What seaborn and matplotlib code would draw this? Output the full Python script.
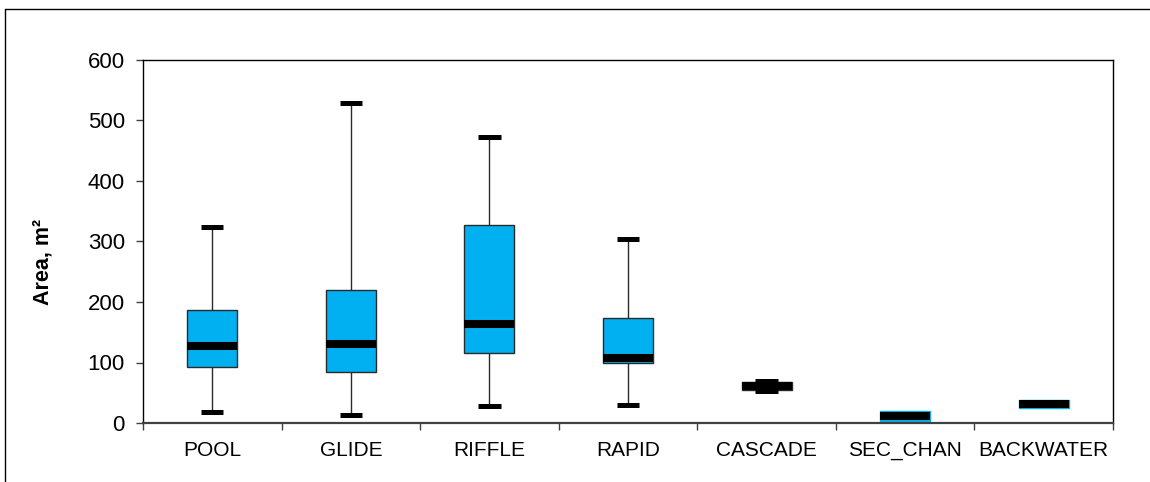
import numpy as np
import pandas as pd
import matplotlib
matplotlib.use("Agg")
import matplotlib.pyplot as plt
import seaborn as sns
from matplotlib.lines import Line2D

# ---- data ----
habitats = ["POOL", "GLIDE", "RIFFLE", "RAPID", "CASCADE", "SEC_CHAN", "BACKWATER"]
mins    = [18, 13, 28, 30, 53, 4, 24]
q1s     = [93, 84, 116, 100, 54, 4, 24]
medians = [127, 130, 163, 108, 61, 12, 31]
q3s     = [186, 220, 327, 174, 67, 20, 38]
maxs    = [324, 529, 472, 304, 69, 20, 38]
yticks = [0, 100, 200, 300, 400, 500, 600]

# five-number table per habitat (min, q1, median, q3, max)
rows = []
for h, a, b, c, d, e in zip(habitats, mins, q1s, medians, q3s, maxs):
    for v in (a, b, c, d, e):
        rows.append({"habitat": h, "area": v})
df = pd.DataFrame(rows)

sns.set_theme(style="white")
plt.rcParams["font.family"] = ["Liberation Sans", "DejaVu Sans"]
plt.rcParams["text.color"] = "black"
plt.rcParams["xtick.color"] = "black"
plt.rcParams["ytick.color"] = "black"
plt.rcParams["axes.labelcolor"] = "black"

fig = plt.figure(figsize=(11.5, 4.82), dpi=100)
ax = fig.add_axes([143 / 1150, 1 - 423 / 482, (1113 - 143) / 1150, (423 - 60) / 482])

sns.boxplot(
    data=df, x="habitat", y="area", order=habitats, ax=ax,
    whis=(0, 100), width=0.36, color="#00B0F0", saturation=1,
    linecolor="#2a2a2a", linewidth=1.0, showfliers=False,
    boxprops=dict(facecolor="#00B0F0", edgecolor="#2a2a2a", linewidth=1.0, zorder=2),
    medianprops=dict(color="black", linewidth=5.8, solid_capstyle="butt", zorder=3),
    capprops=dict(color="black", linewidth=3.6, solid_capstyle="butt", zorder=2.5),
    whiskerprops=dict(color="#2a2a2a", linewidth=1.0),
    capwidths=0.16,
)

# caps that coincide with the box edges are hidden (as in the reference)
cont = ax.containers[0]
for i in range(len(habitats)):
    if mins[i] == q1s[i] and maxs[i] == q3s[i]:
        cont.caps[2 * i].set_visible(False)
        cont.caps[2 * i + 1].set_visible(False)
        cont.boxes[i].set_edgecolor("#00B0F0")

ax.set_ylim(0, 600)
ax.set_xlim(-0.5, len(habitats) - 0.5)
ax.set_yticks(yticks)
ax.set_yticklabels([str(t) for t in yticks], fontsize=16, color="black")

# ticks at category boundaries, labels at centres
ax.set_xticks(np.arange(-0.5, len(habitats), 1.0))
ax.set_xticklabels([])
ax.set_xticks(np.arange(len(habitats)), minor=True)
ax.set_xticklabels(habitats, minor=True, fontsize=15, color="black")
ax.tick_params(axis="x", which="minor", length=0, pad=13)
ax.tick_params(axis="x", which="major", length=5, width=1, color="#404040", direction="out", bottom=True)
ax.tick_params(axis="y", length=5, width=1, color="#404040", direction="out", left=True, pad=8)

ax.set_xlabel("")
ax.set_ylabel("Area, m²", fontsize=15.5, fontweight="bold", color="black")
ax.yaxis.set_label_coords(-(143 - 54) / 970, 0.445)

for side in ["top", "right", "left"]:
    ax.spines[side].set_visible(True)
    ax.spines[side].set_color("black")
    ax.spines[side].set_linewidth(1.0)
ax.spines["bottom"].set_color("#404040")
ax.spines["bottom"].set_linewidth(1.6)
ax.grid(False)

# outer chart-area border
x0 = 5 / 1150
y0 = 1 - 9 / 482
fig.add_artist(Line2D([x0, x0], [-0.1, y0], transform=fig.transFigure, color="black", lw=1.0))
fig.add_artist(Line2D([x0, 1.1], [y0, y0], transform=fig.transFigure, color="black", lw=1.0))

fig.savefig("out.png", dpi=100)
